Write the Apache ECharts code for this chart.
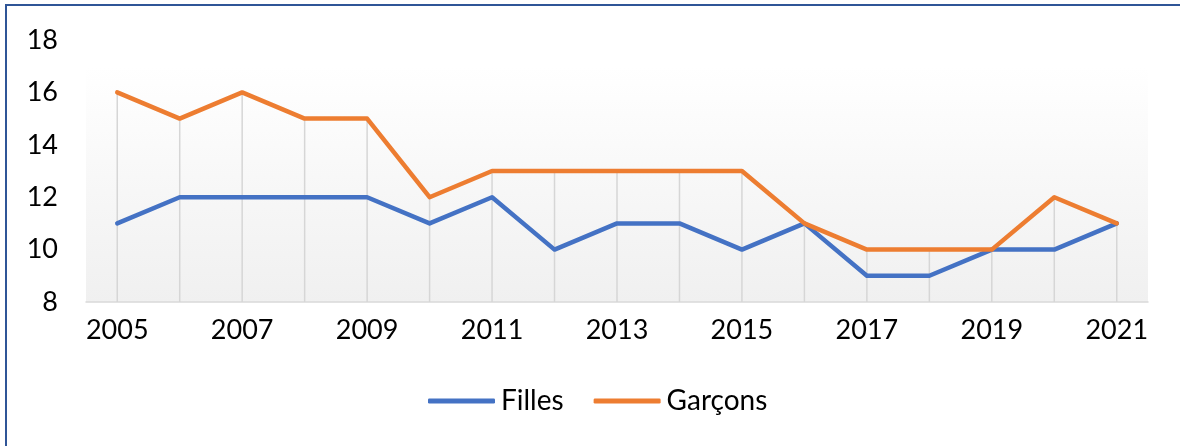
<!DOCTYPE html>
<html>
<head>
<meta charset="utf-8">
<script src="https://cdn.jsdelivr.net/npm/echarts@6/dist/echarts.min.js"></script>
<style>
  html, body { margin: 0; padding: 0; background: #fff; overflow: hidden; width: 1180px; height: 446px; }
  #frame {
    position: absolute; left: 5px; top: 4px; width: 1175px; height: 442px;
    box-sizing: border-box;
    border-top: 2px solid #2F5597; border-left: 2px solid #2F5597;
  }
  #chart { position: absolute; left: 0; top: 0; width: 1180px; height: 446px; }
</style>
</head>
<body>
<div id="frame"></div>
<div id="chart"></div>
<script>
// Years on the horizontal axis
const years = ['2005','2006','2007','2008','2009','2010','2011','2012','2013',
               '2014','2015','2016','2017','2018','2019','2020','2021'];
// Values per year
const filles  = [11, 12, 12, 12, 12, 11, 12, 10, 11, 11, 10, 11, 9, 9, 10, 10, 11];
const garcons = [16, 15, 16, 15, 15, 12, 13, 13, 13, 13, 13, 11, 10, 10, 10, 12, 11];
// Vertical axis ticks
const yTicks = [8, 10, 12, 14, 16, 18];

// Drop lines reach from the higher of the two series down to the axis
const dropLines = years.map((_, i) => Math.max(filles[i], garcons[i]));

const FONT = 'Lato';
const chart = echarts.init(document.getElementById('chart'), null, { renderer: 'canvas' });

chart.setOption({
  animation: false,
  backgroundColor: 'transparent',
  textStyle: { fontFamily: FONT, color: '#000' },
  grid: {
    left: 86, right: 32, top: 40, bottom: 144,
    show: true, borderWidth: 0,
    backgroundColor: {
      type: 'linear', x: 0, y: 0, x2: 0, y2: 1,
      colorStops: [
        { offset: 0, color: '#ffffff' },
        { offset: 0.1, color: '#ffffff' },
        { offset: 1, color: '#f0f0f0' }
      ]
    }
  },
  legend: {
    data: ['Filles', 'Garçons'],
    left: 423, top: 382,
    itemWidth: 67, itemHeight: 5, itemGap: 30,
    icon: 'roundRect',
    textStyle: { fontFamily: FONT, fontSize: 28, color: '#000', padding: [0, 0, 0, 1] }
  },
  xAxis: {
    type: 'category',
    data: years,
    boundaryGap: true,
    axisLine: { lineStyle: { color: '#d9d9d9', width: 1.5 } },
    axisTick: { show: false },
    splitLine: { show: false },
    axisLabel: { interval: 1, fontFamily: FONT, fontSize: 27, color: '#000', margin: 15 }
  },
  yAxis: {
    type: 'value',
    min: yTicks[0], max: yTicks[yTicks.length - 1], interval: 2,
    axisLine: { show: false },
    axisTick: { show: false },
    splitLine: { show: false },
    axisLabel: { fontFamily: FONT, fontSize: 27, color: '#000', margin: 28 }
  },
  series: [
    {
      name: 'drop',
      type: 'bar',
      data: dropLines,
      barWidth: 1.5,
      itemStyle: { color: '#d6d6d6' },
      silent: true,
      z: 1
    },
    {
      name: 'Filles',
      type: 'line',
      data: filles,
      symbol: 'none',
      lineStyle: { color: '#4472C4', width: 4.5, cap: 'round', join: 'round' },
      itemStyle: { color: '#4472C4' },
      z: 3
    },
    {
      name: 'Garçons',
      type: 'line',
      data: garcons,
      symbol: 'none',
      lineStyle: { color: '#ED7D31', width: 4.5, cap: 'round', join: 'round' },
      itemStyle: { color: '#ED7D31' },
      z: 4
    }
  ]
});
</script>
</body>
</html>
